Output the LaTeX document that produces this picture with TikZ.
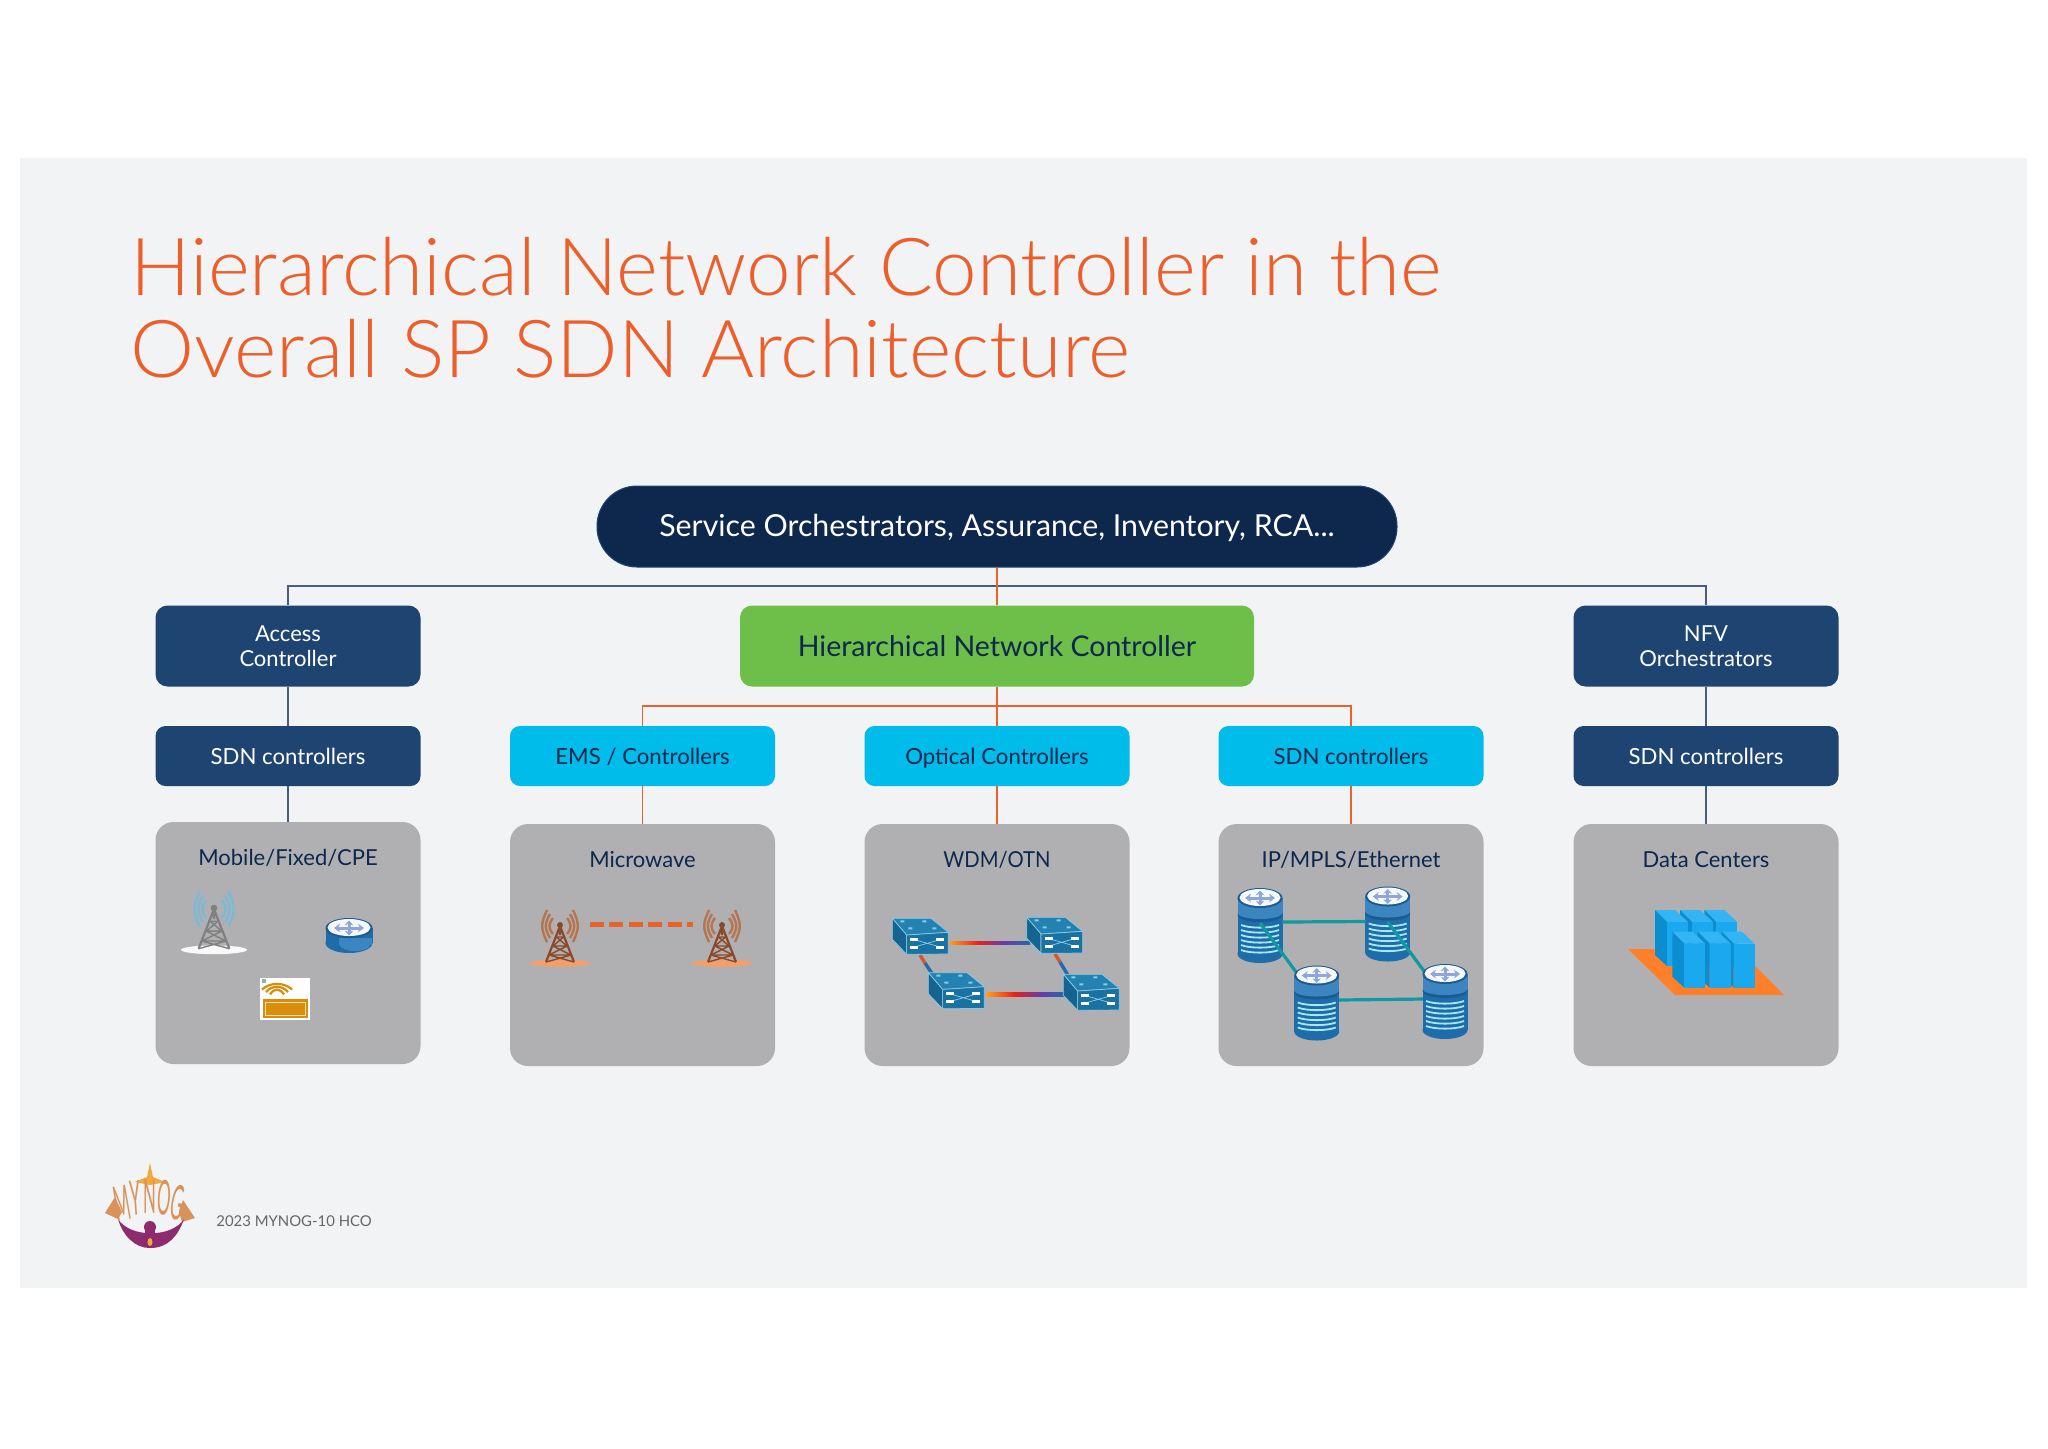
\documentclass[tikz,border=0pt]{standalone}
\usepackage{fontspec}
\setmainfont{Lato}
\newfontfamily\lightfont{Lato Light}
\usetikzlibrary{arrows.meta,shapes.geometric}
\definecolor{slidebg}{HTML}{F2F3F5}
\definecolor{titleor}{HTML}{EC5F2B}
\definecolor{navy}{HTML}{0D274D}
\definecolor{darkbox}{HTML}{1E4471}
\definecolor{cyanbox}{HTML}{00BCEB}
\definecolor{greenbox}{HTML}{6EBE4A}
\definecolor{greybox}{HTML}{B0B0B2}
\definecolor{linegrey}{HTML}{4A5D78}
\definecolor{lineor}{HTML}{E8622A}
\definecolor{swfront}{HTML}{1A72A3}
\definecolor{swtop}{HTML}{2382B2}
\definecolor{swside}{HTML}{15648F}
\definecolor{swedge}{HTML}{8CCBE6}
\definecolor{rtside}{HTML}{1F6CAB}
\definecolor{rtband}{HTML}{3C85C0}
\definecolor{rtarrow}{HTML}{8EA6D8}
\definecolor{linkteal}{HTML}{0E9AA0}
\definecolor{dcfront}{HTML}{1AA9EE}
\definecolor{dctop}{HTML}{33B4F4}
\definecolor{dcside}{HTML}{0B8ECF}
\definecolor{dcplate}{HTML}{FF7F2A}
\definecolor{plum}{HTML}{8E2A6E}
\definecolor{logotan}{HTML}{D8935A}
\definecolor{logostar}{HTML}{F2A93B}
\definecolor{cpeor}{HTML}{D98E0A}
\definecolor{wavemob}{HTML}{7CB9D6}
\definecolor{wavemw}{HTML}{B5754E}
\definecolor{towermw}{HTML}{8A4A2A}
\definecolor{basemw}{HTML}{F0A070}
\definecolor{linkor}{HTML}{FFA020}
\definecolor{linkred}{HTML}{E8201A}
\definecolor{linkpur}{HTML}{6A3AA8}
\definecolor{linkblu}{HTML}{2A66A8}
\tikzset{
  x=0.5pt,y=-0.5pt,
  basebox/.style={rectangle,inner sep=0pt,align=center,minimum width=132.5pt},
  upperbox/.style={basebox,fill=darkbox,text=white,rounded corners=6pt,minimum height=40.5pt,font=\fontsize{11}{12.4}\selectfont},
  sdnbox/.style={basebox,fill=darkbox,text=white,rounded corners=5pt,minimum height=30pt,text height=10pt,text depth=2pt,font=\fontsize{11.1}{13}\selectfont},
  emsbox/.style={basebox,fill=cyanbox,text=navy,rounded corners=5pt,minimum height=30pt,text height=10pt,text depth=2pt,font=\fontsize{11.1}{13}\selectfont},
  greyblock/.style={basebox,fill=greybox,rounded corners=9pt,minimum height=121pt},
  blocklabel/.style={inner sep=0pt,text=navy,text height=10pt,text depth=2pt,font=\fontsize{11}{13}\selectfont},
  navyline/.style={draw=linegrey,line width=0.7pt},
  orline/.style={draw=lineor,line width=0.8pt},
  pics/tower/.style n args={3}{code={
    \fill[#3] (0,38) ellipse [x radius=30,y radius=4];
    \foreach \k in {1,2,3}{
      \draw[#2,line width=1.2pt] (-4-3*\k,-3-4*\k) .. controls (-8-3.8*\k,-1) and (-8-3.8*\k,3) .. (-4-3*\k,5+4*\k);
      \draw[#2,line width=1.2pt] (4+3*\k,-3-4*\k) .. controls (8+3.8*\k,-1) and (8+3.8*\k,3) .. (4+3*\k,5+4*\k);
    }
    \draw[#1,line width=1.1pt] (0,1) -- (-14,37) (0,1) -- (14,37) (0,1) -- (0,10);
    \draw[#1,line width=0.7pt] (-3.5,12) -- (3.5,12) (-7,21) -- (7,21) (-11,30) -- (11,30)
       (-3.5,12) -- (7,21) (3.5,12) -- (-7,21) (-7,21) -- (11,30) (7,21) -- (-11,30) (-11,30) -- (14,37) (11,30) -- (-14,37);
    \fill[#1] (0,0) circle [radius=3];
  }},
  pics/arrowsfour/.style={code={
    \draw[rtarrow,line width=1.5pt,-{Stealth[length=3pt,width=4.4pt]}] (0,0) -- (-15,0);
    \draw[rtarrow,line width=1.5pt,-{Stealth[length=3pt,width=4.4pt]}] (0,0) -- (15,0);
    \draw[rtarrow,line width=1.5pt,-{Stealth[length=2.4pt,width=4.4pt]}] (0,0) -- (0,-7.5);
    \draw[rtarrow,line width=1.5pt,-{Stealth[length=2.4pt,width=4.4pt]}] (0,0) -- (0,7.5);
  }},
  pics/routericon/.style={code={
    \fill[rtside] (-23.5,0) rectangle (23.5,15);
    \fill[rtside] (0,15) ellipse [x radius=23.5,y radius=10];
    \fill[rtband] (-10,10) rectangle (23,17);
    \fill[rtband] (6,17) ellipse [x radius=15,y radius=6];
    \fill[rtside!85!black] (0,0) ellipse [x radius=23.5,y radius=10];
    \fill[white!92!rtarrow] (0,-0.5) ellipse [x radius=21.5,y radius=8.5];
    \pic at (0,0) {arrowsfour};
  }},
  pics/stackicon/.style={code={
    \fill[rtside] (-22.5,0) rectangle (22.5,56);
    \fill[rtside] (0,56) ellipse [x radius=22.5,y radius=9];
    \foreach \yy in {27,32,37,42,47,52}{
      \draw[white!65!cyanbox,line width=0.9pt] (-19,\yy) .. controls (-10,\yy+3.5) and (10,\yy+3.5) .. (19,\yy);
    }
    \fill[rtside!85!black] (0,17) ellipse [x radius=22.5,y radius=7];
    \fill[rtband] (-22.5,0) rectangle (22.5,15);
    \fill[rtband] (0,15) ellipse [x radius=22.5,y radius=6];
    \fill[rtside!85!black] (0,0) ellipse [x radius=22.5,y radius=10];
    \fill[white!92!rtarrow] (0,-0.5) ellipse [x radius=20.5,y radius=8.5];
    \pic at (0,0) {arrowsfour};
  }},
  pics/switchicon/.style={code={
    \fill[swtop,draw=swedge,line width=0.35pt,line join=round] (0,0) -- (38.7,0) -- (56,14) -- (14.3,16.7) -- cycle;
    \fill[swside,draw=swedge,line width=0.35pt,line join=round] (0,0) -- (14.3,16.7) -- (14.3,36) -- (0,21) -- cycle;
    \fill[swfront,draw=swedge,line width=0.35pt,line join=round] (14.3,16.7) -- (56,14) -- (56,35.7) -- (14.3,36) -- cycle;
    \draw[swedge,line width=0.35pt] (21,21) -- (49,29) (21,29) -- (49,21);
    \foreach \a in {21,29}{
      \fill[white] (18,\a-1.6) rectangle (26,\a+1.6);
      \fill[white] (44,\a-1.6) rectangle (52,\a+1.6);
    }
    \fill[swedge] (8,2) rectangle (12,4) (30,2) rectangle (34,4) (16,9) rectangle (20,11) (40,9) rectangle (44,11);
  }},
  pics/dcblock/.style={code={
    \fill[dctop] (0,0) -- (20,0) -- (33,12) -- (12,12) -- cycle;
    \fill[dcside] (0,0) -- (12,12) -- (12,56) -- (0,45) -- cycle;
    \fill[dcfront] (12,12) rectangle (33,56);
  }}
}
\begin{document}
\begin{tikzpicture}
\useasboundingbox (0,0) rectangle (2048,1448);
\fill[white] (0,0) rectangle (2048,1448);
\fill[slidebg] (20,158) rectangle (2027,1288);

% title
\node[anchor=north west,inner sep=0pt,align=left,text=titleor,font=\lightfont\fontsize{40}{41}\selectfont] (title) at (130,237)
  {Hierarchical Network Controller in the\\\scalebox{1.013}[1]{Overall SP SDN Architecture}};

% top tier
\node[rectangle,rounded corners=20pt,fill=navy,draw=darkbox,line width=0.5pt,text=white,minimum width=400pt,minimum height=40.5pt,inner sep=0pt,text height=13pt,text depth=3pt,font=\fontsize{15.15}{17}\selectfont] (orch) at (997,526.5) {Service Orchestrators, Assurance, Inventory, RCA...};
\node[upperbox] (access) at (288,646) {Access\\Controller};
\node[rectangle,rounded corners=6pt,fill=greenbox,text=navy,minimum width=257pt,minimum height=40.5pt,inner sep=0pt,text height=13pt,text depth=3pt,font=\fontsize{14.25}{17}\selectfont] (hnc) at (997,646) {Hierarchical Network Controller};
\node[upperbox] (nfv) at (1706,646) {NFV\\Orchestrators};

% controllers
\node[sdnbox] (sdna) at (288,756) {SDN controllers};
\node[emsbox] (ems) at (642.5,756) {EMS / Controllers};
\node[emsbox] (opt) at (997,756) {Optical Controllers};
\node[emsbox] (sdnc) at (1351,756) {SDN controllers};
\node[sdnbox] (sdnd) at (1706,756) {SDN controllers};

% grey blocks
\node[greyblock] (mob) at (288,943) {};
\node[greyblock] (mic) at (642.5,945) {};
\node[greyblock] (wdm) at (997,945) {};
\node[greyblock] (ip) at (1351,945) {};
\node[greyblock] (dc) at (1706,945) {};
\node[blocklabel] (lmob) at (288,857) {Mobile/Fixed/CPE};
\node[blocklabel] (lmic) at (642.5,859) {Microwave};
\node[blocklabel] (lwdm) at (997,859) {\scalebox{0.92}[1]{WDM/OTN}};
\node[blocklabel] (lip) at (1351,859) {IP/MPLS/Ethernet};
\node[blocklabel] (ldc) at (1706,859) {Data Centers};

% connectors
\coordinate (busL) at (288,586);
\coordinate (busR) at (1706,586);
\coordinate (busO) at (642.5,706);
\coordinate (busC) at (1351,706);
\draw[navyline] (access.north) -- (busL) -- (busR) -- (nfv.north);
\draw[navyline] (access.south) -- (sdna.north);
\draw[navyline] (sdna.south) -- (mob.north);
\draw[navyline] (nfv.south) -- (sdnd.north);
\draw[navyline] (sdnd.south) -- (dc.north);
\draw[orline] (orch.south) -- (hnc.north);
\draw[orline] (hnc.south) -- (opt.north);
\draw[orline] (ems.north) -- (busO) -- (busC) -- (sdnc.north);
\draw[orline] (ems.south) -- (mic.north);
\draw[orline] (opt.south) -- (wdm.north);
\draw[orline] (sdnc.south) -- (ip.north);

% mobile icons
\pic[scale=1.1] at (214,908) {tower={black!50}{wavemob}{white!92!greybox}};
\pic at (349,928) {routericon};
\fill[white] (260,978) rectangle (310,1020);
\fill[cpeor] (262.7,999.3) rectangle (308,1018);
\draw[white!70!cpeor,line width=0.5pt] (265,1002) rectangle (305.5,1015.5);
\foreach \k in {1,2,3}{
  \draw[cpeor,line width=1.1pt] (277-3-4*\k,997-2.5*\k) .. controls (277-1-2*\k,991-3*\k) and (277+1+2*\k,991-3*\k) .. (277+3+4*\k,997-2.5*\k);
}
\fill[greybox!80!cyanbox] (262,979) rectangle (266,983);

% microwave icons
\pic at (560,925) {tower={towermw}{wavemw}{basemw}};
\pic at (722,925) {tower={towermw}{wavemw}{basemw}};
\coordinate (mwa) at (590,924);
\coordinate (mwb) at (693,924);
\draw[lineor,line width=2.5pt,dash pattern=on 7pt off 2.7pt] (mwa) -- (mwb);

% WDM icons
\shade[left color=linkor,right color=linkred] (949,941) rectangle (978,944.5);
\shade[left color=linkred,right color=linkpur] (978,941) rectangle (1003,944.5);
\shade[left color=linkpur,right color=linkblu] (1003,941) rectangle (1030,944.5);
\shade[left color=linkor,right color=linkred] (986,992.5) rectangle (1015,996);
\shade[left color=linkred,right color=linkpur] (1015,992.5) rectangle (1040,996);
\shade[left color=linkpur,right color=linkblu] (1040,992.5) rectangle (1064,996);
\draw[line width=1.7pt,brown!70!red] (920,955) -- (925,963);
\draw[line width=1.7pt,linkblu] (925,963) -- (933,975);
\draw[line width=1.7pt,brown!70!red] (1055,954) -- (1060,962);
\draw[line width=1.7pt,linkblu] (1060,962) -- (1069,977);
\pic at (892.3,918.3) {switchicon};
\pic at (1026.7,917.3) {switchicon};
\pic at (928.3,972.7) {switchicon};
\pic at (1063.3,974.3) {switchicon};

% IP icons
\pic at (1260,898) {stackicon};
\pic at (1387.7,896.5) {stackicon};
\draw[linkteal,line width=1.6pt] (1282,922) -- (1366,921.5);
\draw[linkteal,line width=1.6pt] (1260,923) -- (1296,972);
\draw[linkteal,line width=1.6pt] (1387.7,922) -- (1424,971);
\draw[linkteal,line width=1.6pt] (1338,1000) -- (1424,999);
\pic at (1316.7,975.5) {stackicon};
\pic at (1445,974) {stackicon};

% data center
\fill[dcplate] (1628,949) -- (1675,995) -- (1784,995) -- (1738,949) -- cycle;
\pic at (1704.3,910) {dcblock};
\pic at (1680,910) {dcblock};
\pic at (1655,910) {dcblock};
\pic at (1721.7,931.7) {dcblock};
\pic at (1697.7,931.7) {dcblock};
\pic at (1672.3,931.7) {dcblock};

% logo
\fill[logostar] (150,1163) -- (153,1177) -- (165,1182) -- (150,1185) -- (135,1182) -- (147,1177) -- cycle;
\fill[logotan] (115,1197) -- (105,1213) -- (118,1219) -- (122,1212) -- cycle;
\fill[logotan] (183,1200) -- (195,1218) -- (182,1222) -- (179,1212) -- cycle;
\fill[plum] (118,1219) .. controls (123,1236) and (135,1248) .. (150,1248) .. controls (168,1248) and (178,1236) .. (184,1219) .. controls (172,1238) and (130,1238) .. (118,1219) -- cycle;
\fill[plum] (150,1227) circle [radius=6];
\fill[plum] (145,1230) rectangle (155,1240);
\fill[logostar] (150,1242) ellipse [x radius=2.5,y radius=4];
\foreach \ch/\xx/\yy/\rr in {M/122/1203/10,Y/136/1198/4,N/150/1196/0,O/164/1198/-4,G/178/1203/-10}{
  \node[rotate=\rr,text=logotan,inner sep=0pt] at (\xx,\yy) {\scalebox{0.7}[2]{\fontsize{12}{12}\selectfont \ch}};
}
\node[anchor=west,inner sep=0pt,text=black!60,font=\fontsize{7.45}{9}\selectfont] (foot) at (216,1221) {2023 MYNOG-10 HCO};
\end{tikzpicture}
\end{document}
